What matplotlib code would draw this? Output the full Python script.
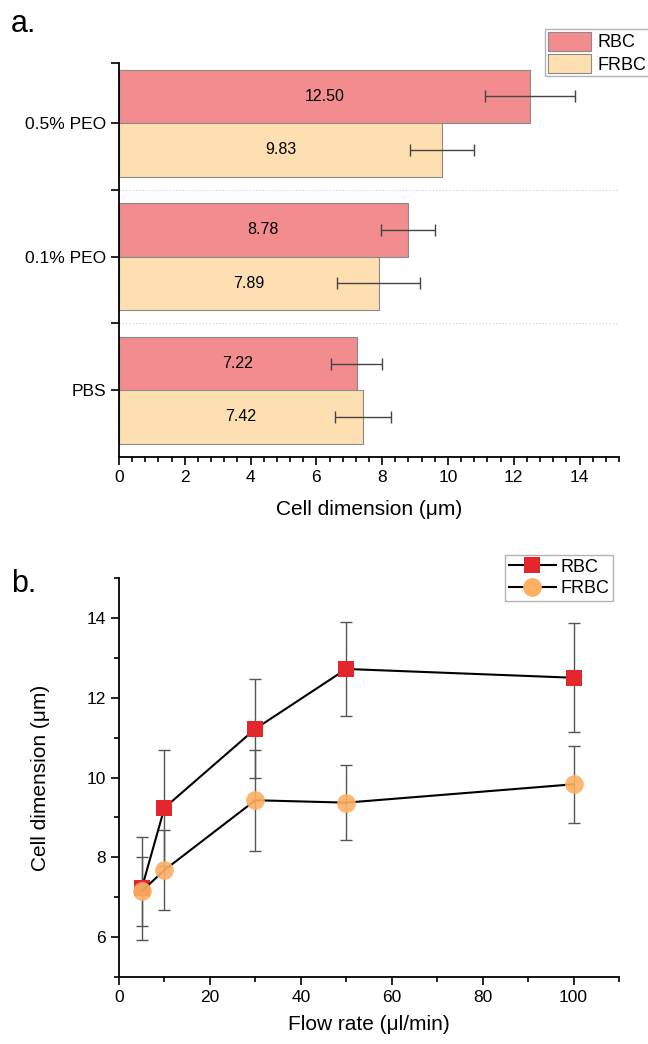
import matplotlib
matplotlib.use("Agg")
import matplotlib.pyplot as plt
from matplotlib.ticker import MultipleLocator, FixedLocator
from matplotlib.lines import Line2D
import numpy as np

plt.rcParams['font.family'] = ['Liberation Sans', 'DejaVu Sans']

# ---- Panel a data ----
categories = ["PBS", "0.1% PEO", "0.5% PEO"]
rbc_bar = [7.22, 8.78, 12.50]
rbc_bar_err = [0.79, 0.83, 1.37]
frbc_bar = [7.42, 7.89, 9.83]
frbc_bar_err = [0.84, 1.26, 0.97]

# ---- Panel b data ----
flow_rate = [5, 10, 30, 50, 100]
rbc_line = [7.22, 9.24, 11.22, 12.72, 12.50]
rbc_line_err = [1.30, 1.46, 1.24, 1.18, 1.36]
frbc_line = [7.15, 7.68, 9.43, 9.37, 9.83]
frbc_line_err = [0.86, 1.00, 1.26, 0.94, 0.96]

RBC_BAR = '#F28C8F'
FRBC_BAR = '#FEDFB1'
RBC_MK = '#E2262C'
FRBC_MK = '#FDB063'

fig = plt.figure(figsize=(6.48, 10.44), dpi=100)

tick_fs = 12.5
label_fs = 15

# ================= Panel a =================
ax1 = fig.add_axes([119/648, 1-457/1044, 500/648, (457-63)/1044])
y = np.arange(len(categories))
h = 0.4
b1 = ax1.barh(y + h/2, rbc_bar, height=h, color=RBC_BAR, edgecolor='#8a8a8a',
              linewidth=0.8, label='RBC', zorder=2)
b2 = ax1.barh(y - h/2, frbc_bar, height=h, color=FRBC_BAR, edgecolor='#8a8a8a',
              linewidth=0.8, label='FRBC', zorder=2)
ax1.errorbar(rbc_bar, y + h/2, xerr=rbc_bar_err, fmt='none', ecolor='#444444',
             elinewidth=1, capsize=4.5, capthick=1, zorder=3)
ax1.errorbar(frbc_bar, y - h/2, xerr=frbc_bar_err, fmt='none', ecolor='#444444',
             elinewidth=1, capsize=4.5, capthick=1, zorder=3)
for yi, v in zip(y + h/2, rbc_bar):
    ax1.text(v/2, yi, f"{v:.2f}", ha='center', va='center', fontsize=11.5, zorder=4)
for yi, v in zip(y - h/2, frbc_bar):
    ax1.text(v/2, yi, f"{v:.2f}", ha='center', va='center', fontsize=11.5, zorder=4)

ax1.set_xlim(0, 15.2)
ax1.set_ylim(-0.5, 2.45)
ax1.set_yticks(y)
ax1.set_yticklabels(categories, fontsize=tick_fs)
ax1.yaxis.set_minor_locator(FixedLocator([0.5, 1.5, 2.45]))
for gy in [0.5, 1.5]:
    ax1.axhline(gy, color='#cccccc', linestyle=(0, (1, 2)), linewidth=0.8, zorder=1)
ax1.xaxis.set_major_locator(MultipleLocator(2))
ax1.xaxis.set_minor_locator(MultipleLocator(0.4))
ax1.set_xticks(np.arange(0, 15, 2))
ax1.tick_params(axis='x', labelsize=tick_fs)
ax1.tick_params(which='major', direction='out', length=6, width=1.2)
ax1.tick_params(which='minor', direction='out', length=3.5, width=1.2)
ax1.tick_params(axis='y', which='minor', length=6)
ax1.spines['top'].set_visible(False)
ax1.spines['right'].set_visible(False)
ax1.spines['left'].set_linewidth(1.3)
ax1.spines['bottom'].set_linewidth(1.3)
ax1.set_xlabel("Cell dimension (\u03bcm)", fontsize=label_fs, labelpad=11)

leg1 = fig.legend(handles=[b1, b2], labels=['RBC', 'FRBC'], loc='upper left',
                  bbox_to_anchor=(545/648, 1-29/1044), fontsize=13,
                  frameon=True, fancybox=False, edgecolor='#a0a0a0',
                  handlelength=2.4, handleheight=1.25, labelspacing=0.15,
                  borderpad=0.15, handletextpad=0.35, borderaxespad=0)
leg1.get_frame().set_linewidth(1.0)

fig.text(11/648, 1-32/1044, "a.", fontsize=22, ha='left', va='baseline')

# ================= Panel b =================
ax2 = fig.add_axes([119/648, 1-977/1044, 500/648, (977-578)/1044])
ax2.errorbar(flow_rate, rbc_line, yerr=rbc_line_err, fmt='none', ecolor='#555555',
             elinewidth=1, capsize=4.5, capthick=1, zorder=2)
ax2.errorbar(flow_rate, frbc_line, yerr=frbc_line_err, fmt='none', ecolor='#555555',
             elinewidth=1, capsize=4.5, capthick=1, zorder=2)
ax2.plot(flow_rate, rbc_line, color='black', linewidth=1.5, zorder=3)
ax2.plot(flow_rate, rbc_line, linestyle='none', marker='s', markersize=11,
         color=RBC_MK, markeredgewidth=0, zorder=4)
ax2.plot(flow_rate, frbc_line, color='black', linewidth=1.5, zorder=5)
ax2.plot(flow_rate, frbc_line, linestyle='none', marker='o', markersize=13.5,
         color=FRBC_MK, alpha=0.9, markeredgewidth=0, zorder=6)

ax2.set_xlim(0, 110)
ax2.set_ylim(5, 15)
ax2.xaxis.set_major_locator(MultipleLocator(20))
ax2.xaxis.set_minor_locator(MultipleLocator(10))
ax2.set_xticks(np.arange(0, 101, 20))
ax2.yaxis.set_major_locator(MultipleLocator(2))
ax2.yaxis.set_minor_locator(MultipleLocator(1))
ax2.set_yticks(np.arange(6, 15, 2))
ax2.tick_params(labelsize=tick_fs)
ax2.tick_params(which='major', direction='out', length=6, width=1.2)
ax2.tick_params(which='minor', direction='out', length=3.5, width=1.2)
ax2.spines['top'].set_visible(False)
ax2.spines['right'].set_visible(False)
ax2.spines['left'].set_linewidth(1.3)
ax2.spines['bottom'].set_linewidth(1.3)
ax2.set_xlabel("Flow rate (\u03bcl/min)", fontsize=label_fs, labelpad=7)
ax2.set_ylabel("Cell dimension (\u03bcm)", fontsize=label_fs, labelpad=26)

h_rbc = Line2D([], [], color='black', linewidth=1.5, marker='s', markersize=11,
               markerfacecolor=RBC_MK, markeredgewidth=0)
h_frbc = Line2D([], [], color='black', linewidth=1.5, marker='o', markersize=13.5,
                markerfacecolor=FRBC_MK, markeredgewidth=0)
leg2 = fig.legend(handles=[h_rbc, h_frbc], labels=['RBC', 'FRBC'], loc='upper left',
                  bbox_to_anchor=(505/648, 1-555/1044), fontsize=13,
                  frameon=True, fancybox=False, edgecolor='#a0a0a0',
                  handlelength=2.6, labelspacing=0.25, borderpad=0.2,
                  handletextpad=0.3, borderaxespad=0)
leg2.get_frame().set_linewidth(1.0)

fig.text(11/648, 1-592/1044, "b.", fontsize=22, ha='left', va='baseline')

fig.savefig("out.png", dpi=100)
